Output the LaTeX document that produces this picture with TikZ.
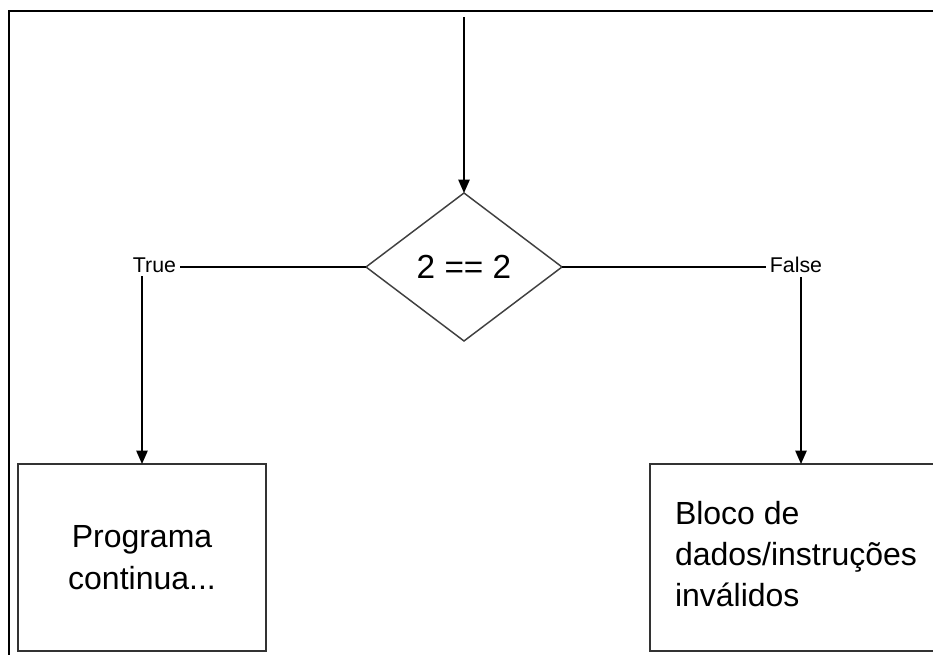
\documentclass[tikz,border=0pt]{standalone}
\usepackage{fontspec}
\setmainfont{Liberation Sans}
\usetikzlibrary{shapes.geometric,arrows.meta}
\begin{document}
\begin{tikzpicture}[x=0.75pt,y=-0.75pt,
  conn/.style={line width=1.1pt, draw=black},
  arr/.style={conn,-{Triangle[length=10pt,width=8.5pt]}},
  dec/.style={diamond, draw=black!75, line width=1.1pt, minimum width=147pt, minimum height=111pt, inner sep=0pt, outer sep=0pt, font=\fontsize{25}{30}\selectfont},
  lab/.style={inner sep=3pt, outer sep=0pt, font=\fontsize{16}{19}\selectfont},
  blk/.style={rectangle, draw=black!80, line width=1.5pt, minimum height=140.25pt, inner sep=0pt, outer sep=0pt, font=\fontsize{24}{31}\selectfont},
  blkline/.style={draw=black!80, line width=1.5pt},
  txt/.style={inner sep=0pt, outer sep=0pt, font=\fontsize{24}{31}\selectfont},
  frame/.style={line width=2.2pt, draw=black}
]
\fill[white] (0,0) rectangle (933,655);
\useasboundingbox (0,0) rectangle (933,655);
% outer frame
\coordinate (fbl) at (9,656);
\coordinate (ftl) at (9,11);
\coordinate (ftr) at (934,11);
\draw[frame] (fbl) -- (ftl) -- (ftr);
% nodes
\coordinate (start) at (464,17);
\node[dec] (cond) at (464,267) {2 == 2};
\node[lab] (trueL) at (154.5,265) {True};
\node[lab] (falseL) at (796,265) {False};
\node[blk, minimum width=186pt, align=center] (box1) at (142,557.5) {Programa\\continua...};
\node[blk, draw=none, minimum width=213pt] (box2) at (791.5,557.5) {};
\draw[blkline] (box2.north east) -- (box2.north west) -- (box2.south west) -- (box2.south east);
\node[txt, anchor=north west, align=left] (box2txt) at (675,501) {Bloco de\\dados/instruções\\inválidos};
% connectors
\draw[arr] (start) -- (cond.north);
\draw[conn] (cond.west) -- (cond.west -| trueL.east);
\draw[conn] (cond.east) -- (cond.east -| falseL.west);
\draw[arr] (box1.north |- trueL.south) -- (box1.north);
\coordinate (b2in) at (801,464);
\draw[arr] (b2in |- falseL.south) -- (b2in);
\end{tikzpicture}
\end{document}
